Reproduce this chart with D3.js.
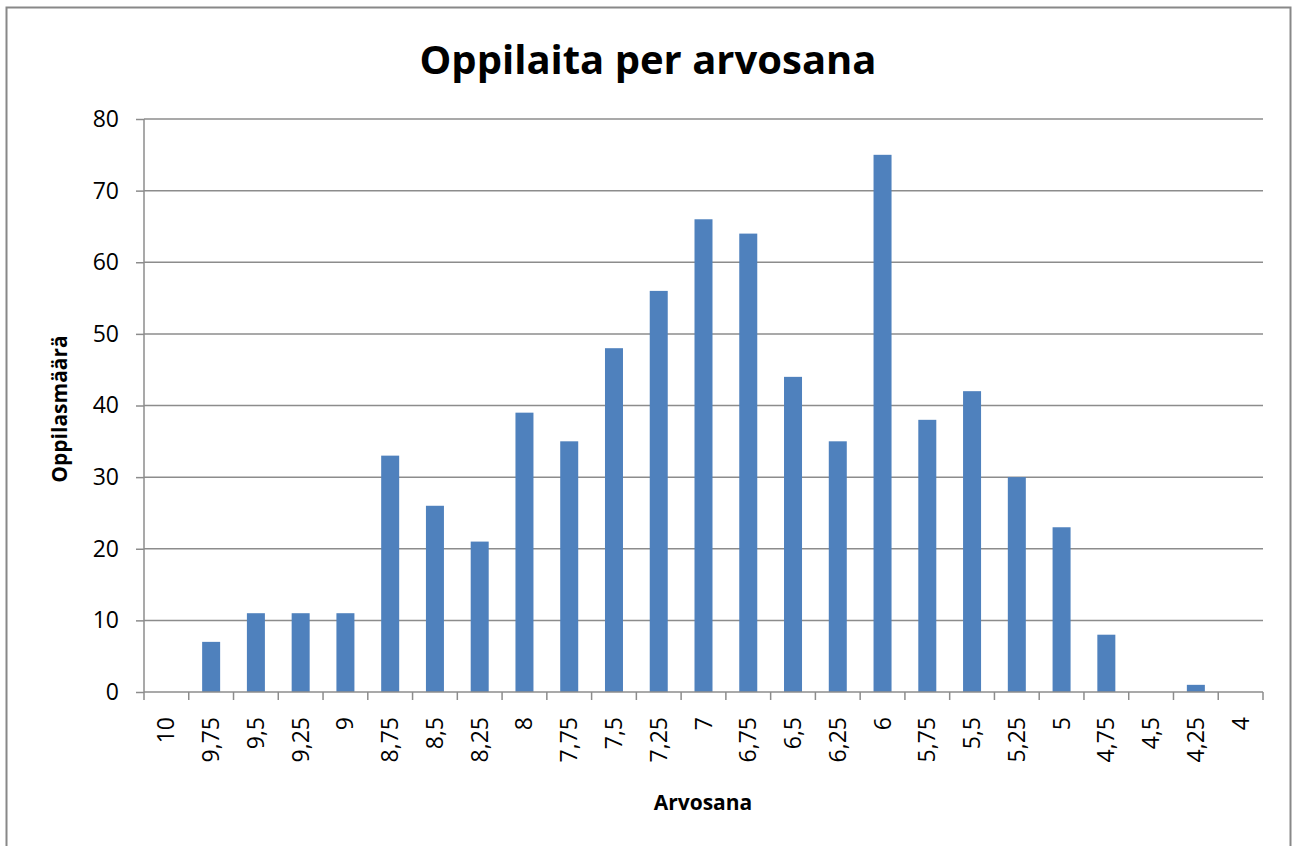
<!DOCTYPE html>
<html><head><meta charset="utf-8">
<script src="https://cdn.jsdelivr.net/npm/d3@7"></script>
<style>body{margin:0;background:#fff;} text{font-family:"Open Sans","Noto Sans",sans-serif;}</style>
</head><body>
<svg id="c" width="1293" height="846"></svg>
<script>
const categories = ["10","9,75","9,5","9,25","9","8,75","8,5","8,25","8","7,75","7,5","7,25","7","6,75","6,5","6,25","6","5,75","5,5","5,25","5","4,75","4,5","4,25","4"];
const values = [0,7,11,11,11,33,26,21,39,35,48,56,66,64,44,35,75,38,42,30,23,8,0,1,0];
const yTicks = [0,10,20,30,40,50,60,70,80];
const title = "Oppilaita per arvosana";
const xTitle = "Arvosana";
const yTitle = "Oppilasmäärä";

const svg = d3.select("#c");
svg.append("rect").attr("x",6.5).attr("y",7.5).attr("width",1284).attr("height",850)
  .attr("fill","#fff").attr("stroke","#888").attr("stroke-width",2);

const L=144, R=1263, T=119, B=692;
const xb = d3.scaleBand().domain(categories).range([L,R]);
const y = d3.scaleLinear().domain([0,80]).range([B,T]);

// gridlines
svg.append("g").selectAll("line").data(yTicks.filter(d=>d>0)).join("line")
  .attr("x1",L).attr("x2",R).attr("y1",d=>y(d)).attr("y2",d=>y(d))
  .attr("stroke","#8c8c8c").attr("stroke-width",1.5);

// bars
svg.append("g").selectAll("rect").data(values).join("rect")
  .attr("x",(d,i)=>xb(categories[i])+xb.bandwidth()/2-9)
  .attr("width",18)
  .attr("y",d=>y(d)).attr("height",d=>B-y(d))
  .attr("fill","#4F81BD");

// y axis
const ya = svg.append("g").attr("transform",`translate(${L},0)`)
  .call(d3.axisLeft(y).tickValues(yTicks).tickSize(8).tickPadding(17).tickFormat(d3.format("d")));
ya.attr("font-size",null).attr("font-family",null);
ya.select(".domain").attr("stroke","#8c8c8c").attr("stroke-width",1.5).attr("d",`M0,${T}V${B}`);
ya.selectAll(".tick line").attr("stroke","#8c8c8c").attr("stroke-width",1.5);
ya.selectAll("text").attr("font-size",23).attr("fill","#000");

// x axis
const boundaries = categories.map(c=>xb(c)).concat([R]);
const xa = svg.append("g");
xa.append("line").attr("x1",L).attr("x2",R).attr("y1",B).attr("y2",B).attr("stroke","#8c8c8c").attr("stroke-width",1.5);
xa.selectAll("line.t").data(boundaries).join("line").attr("class","t")
  .attr("x1",d=>d).attr("x2",d=>d).attr("y1",B).attr("y2",B+8).attr("stroke","#8c8c8c").attr("stroke-width",1.5);
xa.selectAll("text").data(categories).join("text")
  .attr("transform",d=>`translate(${xb(d)+xb.bandwidth()/2+8},${717}) rotate(-90)`)
  .attr("text-anchor","end").attr("font-size",23).attr("fill","#000").text(d=>d);

// titles
svg.append("text").attr("x",648).attr("y",74).attr("text-anchor","middle")
  .attr("font-size",40).attr("font-weight","bold").text(title);
svg.append("text").attr("x",703).attr("y",810).attr("text-anchor","middle")
  .attr("font-size",21).attr("font-weight","bold").text(xTitle);
svg.append("text").attr("transform","translate(67,409) rotate(-90)").attr("text-anchor","middle")
  .attr("font-size",21).attr("font-weight","bold").text(yTitle);
</script>
</body></html>
